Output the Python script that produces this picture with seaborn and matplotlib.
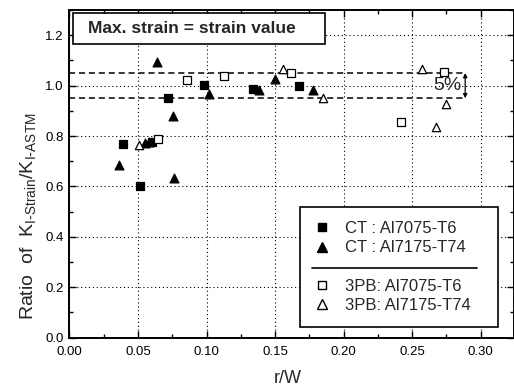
import matplotlib
matplotlib.use("Agg")
import matplotlib.pyplot as plt
import seaborn as sns
import pandas as pd
from matplotlib.lines import Line2D
from matplotlib.patches import Rectangle
from matplotlib.ticker import MultipleLocator

# ---- data ----
ct7075_x = [0.0387, 0.0513, 0.060, 0.0722, 0.0985, 0.134, 0.1676]
ct7075_y = [0.769, 0.602, 0.778, 0.949, 1.003, 0.987, 0.997]

ct7175_x = [0.0358, 0.055, 0.058, 0.064, 0.0757, 0.0766, 0.1019, 0.138, 0.150, 0.1778]
ct7175_y = [0.683, 0.773, 0.777, 1.093, 0.878, 0.635, 0.967, 0.981, 1.027, 0.984]

pb7075_x = [0.0645, 0.0859, 0.1126, 0.1618, 0.2416, 0.2732]
pb7075_y = [0.790, 1.021, 1.039, 1.050, 0.854, 1.053]

pb7175_x = [0.0508, 0.1555, 0.1847, 0.257, 0.2672, 0.2745]
pb7175_y = [0.765, 1.066, 0.951, 1.068, 0.834, 0.928]

labels = ["CT : Al7075-T6", "CT : Al7175-T74", "3PB: Al7075-T6", "3PB: Al7175-T74"]
band_upper, band_lower = 1.05, 0.95
title_text = "Max. strain = strain value"
band_text = "5%"
xticks = [0.00, 0.05, 0.10, 0.15, 0.20, 0.25, 0.30]
yticks = [0.0, 0.2, 0.4, 0.6, 0.8, 1.0, 1.2]

sns.set_style("ticks")
plt.rcParams['font.family'] = ['Liberation Sans', 'DejaVu Sans']
plt.rcParams['mathtext.default'] = 'regular'

fig = plt.figure(figsize=(5.14, 3.87), dpi=100)
ax = fig.add_axes([0.1352, 0.1279, 0.865, 0.846])

series = [
    (ct7075_x, ct7075_y, 's', 'black', 30),
    (ct7175_x, ct7175_y, '^', 'black', 40),
    (pb7075_x, pb7075_y, 's', 'white', 26),
    (pb7175_x, pb7175_y, '^', 'white', 36),
]
for (xs, ys, m, fc, s), lab in zip(series, labels):
    df = pd.DataFrame({"r/W": xs, "ratio": ys})
    sns.scatterplot(data=df, x="r/W", y="ratio", ax=ax, marker=m, s=s,
                    facecolor=fc, edgecolor='black', linewidth=0.9,
                    zorder=4, legend=False)

ax.set_xlim(0, 0.3245)
ax.set_ylim(0, 1.3)
ax.set_xticks(xticks)
ax.set_xticklabels([f"{t:.2f}" for t in xticks])
ax.set_yticks(yticks)
ax.set_yticklabels([f"{t:.1f}" for t in yticks])
ax.xaxis.set_minor_locator(MultipleLocator(0.025))
ax.yaxis.set_minor_locator(MultipleLocator(0.1))
ax.tick_params(which='both', direction='in', top=True, right=True,
               labelsize=9.5, color='black', labelcolor='black', width=1.0)
ax.tick_params(which='major', length=5, pad=4)
ax.tick_params(which='minor', length=3)
ax.tick_params(axis='x', which='major', pad=6)
for sp in ax.spines.values():
    sp.set_color('black')
    sp.set_linewidth(1.4)

ax.grid(True, which='major', color='black', linestyle=(0, (1, 2.5)), linewidth=0.8)

# 5% band
ax.plot([0, 0.2895], [band_upper, band_upper], color='black', linestyle=(0, (4, 2.5)), linewidth=1.1, zorder=3)
ax.plot([0, 0.2895], [band_lower, band_lower], color='black', linestyle=(0, (4, 2.5)), linewidth=1.1, zorder=3)
ax.annotate('', xy=(0.2888, band_upper), xytext=(0.2888, band_lower),
            arrowprops=dict(arrowstyle='<|-|>', color='black', lw=0.9,
                            mutation_scale=6, shrinkA=0, shrinkB=0))
ax.text(0.2757, 1.0, band_text, fontsize=14, ha='center', va='center', zorder=5)

# title box
ax.add_patch(Rectangle((0.0074, 0.896), 0.567, 0.095, transform=ax.transAxes,
                       facecolor='white', edgecolor='black', linewidth=1.2, zorder=5))
ax.text(0.041, 0.943, title_text, transform=ax.transAxes, fontsize=12.5,
        fontweight='bold', ha='left', va='center', zorder=6)

ax.set_xlabel("r/W", fontsize=13)
ax.xaxis.set_label_coords(0.49, -0.124)
ax.xaxis.label.set_va('center')
ax.set_ylabel(r"Ratio  of  K$_{I\text{-}Strain}$/K$_{I\text{-}ASTM}$", fontsize=14)
ax.yaxis.set_label_coords(-0.093, 0.371)
ax.yaxis.label.set_va('center')

# legend
handles = [
    Line2D([], [], linestyle='none', marker='s', markerfacecolor='black', markeredgecolor='black', markersize=6),
    Line2D([], [], linestyle='none', marker='^', markerfacecolor='black', markeredgecolor='black', markersize=7),
    Line2D([], [], linestyle='none', marker=''),
    Line2D([], [], linestyle='none', marker='s', markerfacecolor='white', markeredgecolor='black', markersize=5.5),
    Line2D([], [], linestyle='none', marker='^', markerfacecolor='white', markeredgecolor='black', markersize=6.5),
]
leg_labels = [labels[0], labels[1], "", labels[2], labels[3]]
leg = ax.legend(handles, leg_labels, loc='lower left', bbox_to_anchor=(0.518, 0.032, 0.446, 0.366),
                mode='expand', fontsize=12, frameon=True, fancybox=False, edgecolor='black',
                framealpha=1, labelspacing=0.25, handlelength=1.0, handletextpad=0.86,
                borderpad=0.85, borderaxespad=0)
leg.get_frame().set_linewidth(1.2)
leg.set_zorder(6)
sep = Line2D([0.545, 0.917], [0.212, 0.212], transform=ax.transAxes, color='black',
             linewidth=1.2, zorder=7)
ax.add_line(sep)

fig.savefig("out.png", dpi=100)
